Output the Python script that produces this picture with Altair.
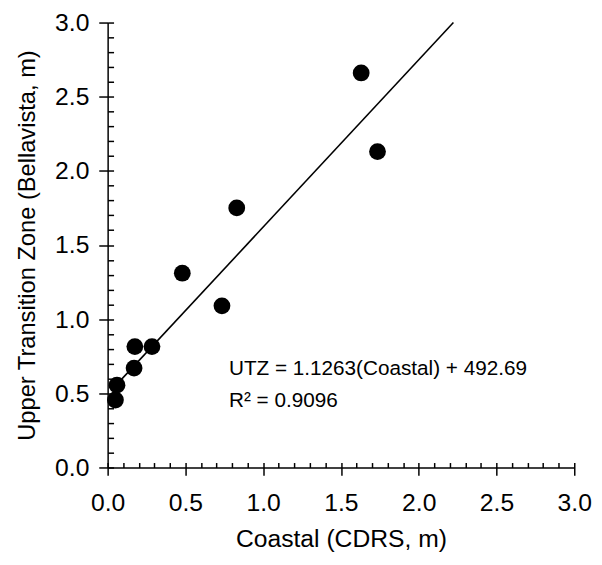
import altair as alt
import pandas as pd

# Data
coastal = [1.63, 1.735, 0.83, 0.48, 0.735, 0.175, 0.285, 0.17, 0.06, 0.05]
utz = [2.66, 2.13, 1.75, 1.31, 1.09, 0.815, 0.815, 0.67, 0.555, 0.455]

fit_x = [0.05, 2.223]
fit_y = [0.55, 3.0]

major_ticks = [0.0, 0.5, 1.0, 1.5, 2.0, 2.5, 3.0]
minor_ticks = [round(i * 0.1, 1) for i in range(31)]

eq_text = "UTZ = 1.1263(Coastal) + 492.69"
r2_text = "R\u00b2 = 0.9096"

FONT = "Liberation Sans"
W, H = 473, 451

pts = pd.DataFrame({"coastal": coastal, "utz": utz})
fit = pd.DataFrame({"coastal": fit_x, "utz": fit_y})

xscale = alt.Scale(domain=[0, 3], nice=False, zero=False)
yscale = alt.Scale(domain=[0, 3], nice=False, zero=False)

points = alt.Chart(pts).mark_circle(size=290, color="black", opacity=1).encode(
    x=alt.X("coastal:Q", scale=xscale,
            axis=alt.Axis(values=major_ticks, format=".1f", tickSize=8,
                          labelFlush=False, labelFontSize=25,
                          title="Coastal (CDRS, m)", titleFontSize=25,
                          labelPadding=16, titlePadding=11, grid=False)),
    y=alt.Y("utz:Q", scale=yscale,
            axis=alt.Axis(values=major_ticks, format=".1f", tickSize=9,
                          labelFontSize=25,
                          title="Upper Transition Zone (Bellavista, m)",
                          titleFontSize=24,
                          labelPadding=10, titlePadding=15, grid=False)),
)

line = alt.Chart(fit).mark_line(color="black", strokeWidth=1.6).encode(
    x=alt.X("coastal:Q", scale=xscale,
            axis=alt.Axis(orient="top", offset=-H, values=minor_ticks,
                          tickSize=5, labels=False, domain=False, title=None,
                          grid=False)),
    y=alt.Y("utz:Q", scale=yscale,
            axis=alt.Axis(orient="right", offset=-W, values=minor_ticks,
                          tickSize=6, labels=False, domain=False, title=None,
                          grid=False)),
)

eq = alt.Chart(pd.DataFrame({"t": [eq_text]})).mark_text(
    align="left", baseline="alphabetic", fontSize=21, font=FONT, color="black"
).encode(
    x=alt.datum(0.78, scale=xscale, axis=None),
    y=alt.datum(0.625, scale=yscale, axis=None),
    text="t:N",
)

r2 = alt.Chart(pd.DataFrame({"t": [r2_text]})).mark_text(
    align="left", baseline="alphabetic", fontSize=21, font=FONT, color="black"
).encode(
    x=alt.datum(0.78, scale=xscale, axis=None),
    y=alt.datum(0.41, scale=yscale, axis=None),
    text="t:N",
)

chart = (
    alt.layer(points, line, eq, r2)
    .resolve_axis(x="independent", y="independent")
    .properties(
        width=W,
        height=H,
        autosize=alt.AutoSizeParams(type="none"),
        padding={"left": 101, "top": 11, "right": 20, "bottom": 87},
        background="white",
    )
    .configure_view(stroke=None)
    .configure_axis(
        domainColor="black",
        tickColor="black",
        labelColor="black",
        titleColor="black",
        labelFont=FONT,
        titleFont=FONT,
        titleFontWeight="normal",
        domainWidth=1.5,
        tickWidth=1.5,
    )
)

chart.save("out.html", embed_options={"renderer": "svg", "actions": False})
